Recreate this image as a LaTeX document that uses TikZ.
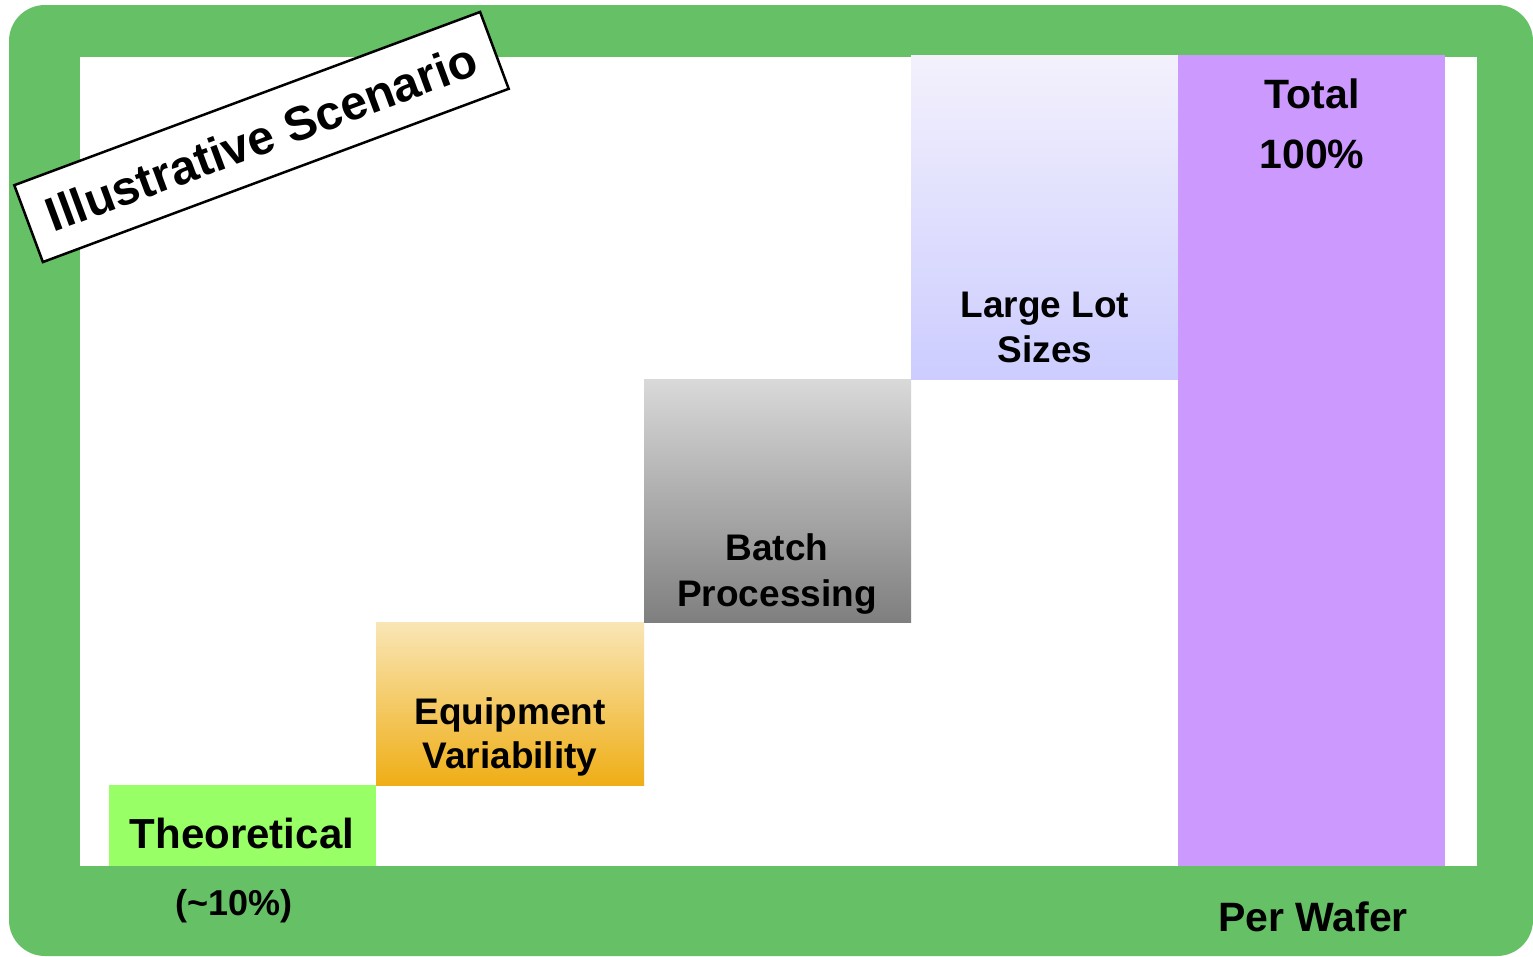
\documentclass[tikz,border=0pt]{standalone}
\usepackage{fontspec}
\setmainfont{Liberation Sans}
\definecolor{framegreen}{HTML}{66C166}
\definecolor{theogreen}{HTML}{99FF66}
\definecolor{equiptop}{HTML}{F9E6B6}
\definecolor{equipbot}{HTML}{EFAE16}
\definecolor{batchtop}{HTML}{D9D9D9}
\definecolor{batchbot}{HTML}{7F7F7F}
\definecolor{lottop}{HTML}{F3F1FC}
\definecolor{lotbot}{HTML}{CCCCFF}
\definecolor{totalviolet}{HTML}{CC99FF}

\begin{document}
\begin{tikzpicture}[x=1pt,y=-1pt,
    lbl/.style={anchor=base, inner sep=0pt, font=\bfseries\fontsize{37}{44}\selectfont},
    biglbl/.style={lbl, font=\bfseries\fontsize{41}{48}\selectfont}]
    \useasboundingbox (0,0) rectangle (1533,956);
    % frame
    \fill[framegreen, rounded corners=36pt] (9,5) rectangle (1533,956);
    \fill[white] (80,57) rectangle (1477,866);
    % bars
    \fill[theogreen] (109,785) rectangle (376,866);
    \shade[top color=equiptop, middle color=equiptop!60!equipbot, bottom color=equipbot] (376,622) rectangle (644,785);
    \shade[top color=batchtop, middle color=batchtop!60!batchbot, bottom color=batchbot] (644,379) rectangle (911,622);
    \shade[top color=lottop, middle color=lottop!60!lotbot, bottom color=lotbot] (911,55) rectangle (1178,379);
    \fill[totalviolet] (1178,55) rectangle (1445,866);
    % labels
    \node[biglbl, font=\bfseries\fontsize{42}{48}\selectfont] (theo) at (242,848) {Theoretical};
    \node[lbl, font=\bfseries\fontsize{36}{44}\selectfont] (theopct) at (234,915) {(\char`\~10\%)};
    \node[lbl] (equip1) at (510,724) {Equipment};
    \node[lbl] (equip2) at (510,768) {Variability};
    \node[lbl] (batch1) at (777,560) {Batch};
    \node[lbl] (batch2) at (777,606) {Processing};
    \node[lbl] (lot1) at (1045,317) {Large Lot};
    \node[lbl] (lot2) at (1045,362) {Sizes};
    \node[biglbl] (total) at (1312,108) {Total};
    \node[biglbl] (totalpct) at (1312,168) {100\%};
    \node[biglbl] (wafer) at (1313,931) {Per Wafer};
    % stamp
    \node[draw, line width=2.5pt, fill=white, rotate=20.4, inner sep=0pt,
        minimum width=497pt, minimum height=82pt,
        font=\bfseries\fontsize{48}{48}\selectfont] (scen) at (261.5,137) {Illustrative Scenario};
\end{tikzpicture}
\end{document}
